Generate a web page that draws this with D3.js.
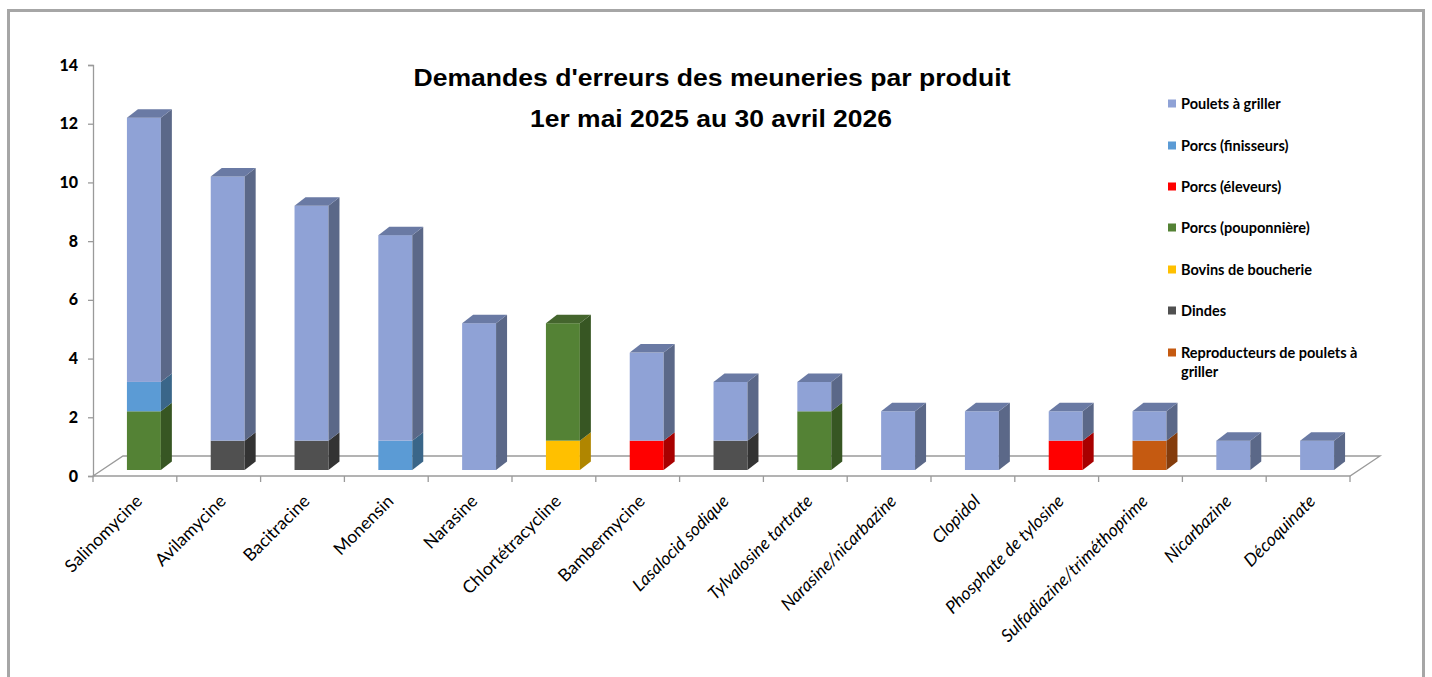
<!DOCTYPE html>
<meta charset="utf-8">
<script src="https://d3js.org/d3.v7.min.js"></script>
<style>
  body { margin: 0; background: #fff; }
</style>
<div id="chart"></div>
<script>
// data
var products = ["Salinomycine", "Avilamycine", "Bacitracine", "Monensin", "Narasine",
  "Chlortétracycline", "Bambermycine", "Lasalocid sodique", "Tylvalosine tartrate",
  "Narasine/nicarbazine", "Clopidol", "Phosphate de tylosine",
  "Sulfadiazine/triméthoprime", "Nicarbazine", "Décoquinate"];

// series, stacked bottom to top
var reproducteurs = [0, 0, 0, 0, 0, 0, 0, 0, 0, 0, 0, 0, 1, 0, 0];
var dindes        = [0, 1, 1, 0, 0, 0, 0, 1, 0, 0, 0, 0, 0, 0, 0];
var bovins        = [0, 0, 0, 0, 0, 1, 0, 0, 0, 0, 0, 0, 0, 0, 0];
var pouponniere   = [2, 0, 0, 0, 0, 4, 0, 0, 2, 0, 0, 0, 0, 0, 0];
var eleveurs      = [0, 0, 0, 0, 0, 0, 1, 0, 0, 0, 0, 1, 0, 0, 0];
var finisseurs    = [1, 0, 0, 1, 0, 0, 0, 0, 0, 0, 0, 0, 0, 0, 0];
var poulets       = [9, 9, 8, 7, 5, 0, 3, 2, 1, 2, 2, 1, 1, 1, 1];

var yTicks = [0, 2, 4, 6, 8, 10, 12, 14];

var series = [
  {name: "Reproducteurs de poulets à griller", values: reproducteurs, front: "#C55A11", side: "#843C0C", top: "#9E4A10"},
  {name: "Dindes", values: dindes, front: "#505050", side: "#333333", top: "#404040"},
  {name: "Bovins de boucherie", values: bovins, front: "#FFC000", side: "#B08600", top: "#CC9A00"},
  {name: "Porcs (pouponnière)", values: pouponniere, front: "#548235", side: "#375623", top: "#44652D"},
  {name: "Porcs (éleveurs)", values: eleveurs, front: "#FF0000", side: "#A80000", top: "#CC0000"},
  {name: "Porcs (finisseurs)", values: finisseurs, front: "#5B9BD5", side: "#3A6689", top: "#4A7DAA"},
  {name: "Poulets à griller", values: poulets, front: "#8FA2D6", side: "#5B6888", top: "#6A7AA4"}
];

var W = 1432, H = 677;
var svg = d3.select("#chart").append("svg")
  .attr("width", W).attr("height", H);

// outer frame
svg.append("rect")
  .attr("x", 8.5).attr("y", 10.5).attr("width", 1415).attr("height", 720)
  .attr("fill", "none").attr("stroke", "#A6A6A6").attr("stroke-width", 3);

var x = d3.scaleBand().domain(products).range([93, 1350]);
var y = d3.scaleLinear().domain([0, 14]).range([476, 65]);

// 3D offsets
var floorD = {dx: 30, dy: -20};
var barOff = {dx: 9, dy: -6};
var barD = {dx: 11, dy: -8.5};
var barW = x.bandwidth() * 0.405;

var axisColor = "#9A9A9A";
var labelFont = "Lato, 'Open Sans', sans-serif";

// floor
var x0 = x.range()[0], x1 = x.range()[1], yb = y(0);
svg.append("path")
  .attr("d", "M" + x0 + "," + yb + "L" + (x0 + floorD.dx) + "," + (yb + floorD.dy) +
    "L" + (x1 + floorD.dx) + "," + (yb + floorD.dy) + "L" + x1 + "," + yb + "Z")
  .attr("fill", "none").attr("stroke", axisColor).attr("stroke-width", 1.3);

// x ticks
svg.selectAll(".xtick")
  .data(products.concat(["end"]))
  .enter().append("line")
  .attr("x1", function(d, i) { return x0 + i * x.step(); })
  .attr("x2", function(d, i) { return x0 + i * x.step(); })
  .attr("y1", yb).attr("y2", yb + 6)
  .attr("stroke", axisColor).attr("stroke-width", 1.3);

// y axis
var yAxis = svg.append("g")
  .attr("transform", "translate(" + x0 + ",0)")
  .call(d3.axisLeft(y).tickValues(yTicks).tickSize(5).tickPadding(10).tickFormat(d3.format("d")));
yAxis.select(".domain").attr("stroke", axisColor).attr("stroke-width", 1.3);
yAxis.selectAll(".tick line").attr("stroke", axisColor).attr("stroke-width", 1.3);
yAxis.selectAll(".tick text")
  .attr("fill", "#000")
  .style("font-family", labelFont)
  .style("font-size", "16px")
  .style("font-weight", "900");

// bars
var barsG = svg.append("g");
products.forEach(function(p, i) {
  var base = 0;
  var left = x(p) + (x.bandwidth() - barW) / 2 + barOff.dx;
  var topIndex = -1;
  series.forEach(function(s, k) { if (s.values[i] > 0) topIndex = k; });
  series.forEach(function(s, k) {
    var v = s.values[i];
    if (!v) return;
    var yLo = y(base) + barOff.dy, yHi = y(base + v) + barOff.dy;
    var g = barsG.append("g");
    // front
    g.append("rect")
      .attr("x", left).attr("y", yHi)
      .attr("width", barW).attr("height", yLo - yHi)
      .attr("fill", s.front);
    // side
    var r = left + barW;
    g.append("path")
      .attr("d", "M" + r + "," + yLo + "L" + (r + barD.dx) + "," + (yLo + barD.dy) +
        "L" + (r + barD.dx) + "," + (yHi + barD.dy) + "L" + r + "," + yHi + "Z")
      .attr("fill", s.side);
    // top
    if (k === topIndex) {
      g.append("path")
        .attr("d", "M" + left + "," + yHi + "L" + (left + barD.dx) + "," + (yHi + barD.dy) +
          "L" + (r + barD.dx) + "," + (yHi + barD.dy) + "L" + r + "," + yHi + "Z")
        .attr("fill", s.top);
    }
    base += v;
  });
});

// category labels
svg.selectAll(".xlabel")
  .data(products)
  .enter().append("text")
  .attr("transform", function(d) {
    return "translate(" + (x(d) + x.bandwidth() / 2 + 4) + "," + 498 + ")rotate(-45)";
  })
  .attr("text-anchor", "end")
  .attr("dy", "0.35em")
  .style("font-family", labelFont)
  .style("font-size", "17.5px")
  .style("font-style", function(d, i) { return i >= 7 ? "italic" : "normal"; })
  .text(function(d) { return d; });

// title
var title = svg.append("text")
  .attr("text-anchor", "middle")
  .style("font-family", "'Liberation Sans', Arial, sans-serif")
  .style("font-size", "23px")
  .style("font-weight", "bold");
title.append("tspan").attr("x", 712).attr("y", 86)
  .attr("textLength", 597).attr("lengthAdjust", "spacingAndGlyphs")
  .text("Demandes d'erreurs des meuneries par produit");
title.append("tspan").attr("x", 711).attr("y", 127)
  .attr("textLength", 362).attr("lengthAdjust", "spacingAndGlyphs")
  .text("1er mai 2025 au 30 avril 2026");

// legend (top series first)
var legendData = series.slice().reverse();
var legend = svg.append("g").attr("transform", "translate(1168,0)");
var rowY = [104, 146, 187, 228, 270, 311, 353];
legendData.forEach(function(s, i) {
  var g = legend.append("g").attr("transform", "translate(0," + rowY[i] + ")");
  g.append("rect").attr("x", 0).attr("y", -4.5).attr("width", 8).attr("height", 8).attr("fill", s.front);
  var t = g.append("text")
    .attr("x", 13).attr("y", 0).attr("dy", "0.35em")
    .style("font-family", labelFont)
    .style("font-size", "14.5px")
    .style("font-weight", "bold");
  if (s.name.length > 30) {
    t.append("tspan").attr("x", 13).text("Reproducteurs de poulets à");
    t.append("tspan").attr("x", 13).attr("dy", "1.3em").text("griller");
  } else {
    t.text(s.name);
  }
});
</script>
